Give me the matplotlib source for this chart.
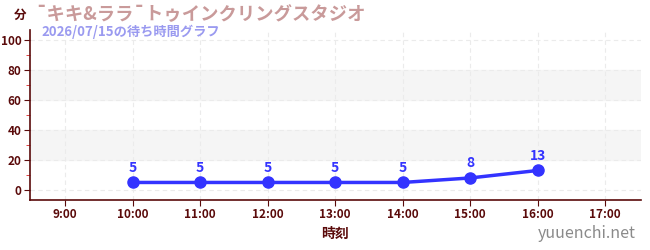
import matplotlib
matplotlib.use("Agg")
import matplotlib.pyplot as plt

plt.rcParams['font.family'] = ['Noto Sans CJK JP', 'DejaVu Sans']

# データ
hours = [10, 11, 12, 13, 14, 15, 16]
waits = [5, 5, 5, 5, 5, 8, 13]
xticks = [9, 10, 11, 12, 13, 14, 15, 16, 17]
xlabels = ["9:00", "10:00", "11:00", "12:00", "13:00", "14:00", "15:00", "16:00", "17:00"]
yticks = [0, 20, 40, 60, 80, 100]

axis_col = "#5a0a0a"
line_col = "#3333ff"

fig = plt.figure(figsize=(6.5, 2.5), dpi=100)
ax = fig.add_axes([30/650, 50/250, 611/650, 170/250])

ax.set_xlim(8.48, 17.53)
ax.set_ylim(-6.7, 106.7)

# 背景の帯
ax.axhspan(20, 40, color="#f5f5f5", zorder=0)
ax.axhspan(60, 80, color="#f5f5f5", zorder=0)

ax.grid(True, color="#ebebeb", linestyle=(0, (4, 3)), linewidth=0.8, zorder=1)

ax.plot(hours, waits, color=line_col, linewidth=2.5, marker="o", markersize=8, zorder=3)
for h, w in zip(hours, waits):
    ax.text(h, w + 5, str(w), color=line_col, fontsize=10, fontweight="bold",
            ha="center", va="bottom", zorder=4)

ax.set_xticks(xticks)
ax.set_xticklabels(xlabels)
ax.set_yticks(yticks)
ax.set_yticks([10, 30, 50, 70, 90], minor=True)
ax.tick_params(axis="both", colors=axis_col, labelsize=8.5, length=4, pad=2)
ax.tick_params(axis="y", which="minor", colors="#dd2222", length=3)
for lab in ax.get_xticklabels() + ax.get_yticklabels():
    lab.set_fontweight("bold")

for s in ["top", "right"]:
    ax.spines[s].set_visible(False)
for s in ["left", "bottom"]:
    ax.spines[s].set_color(axis_col)
    ax.spines[s].set_linewidth(1.2)

ax.set_xlabel("時刻", color=axis_col, fontsize=10, fontweight="bold", labelpad=4)

fig.text(20/650, 1 - 15/250, "分", color=axis_col, fontsize=9, fontweight="bold",
         ha="center", va="center")
fig.text(35/650, 1 - 15/250, "¯キキ&ララ¯トゥインクリングスタジオ", color="#c99a9a",
         fontsize=13.2, fontweight="bold", ha="left", va="center")
fig.text(41/650, 1 - 32/250, "2026/07/15の待ち時間グラフ", color="#9a9af0",
         fontsize=9.5, fontweight="bold", ha="left", va="center")
fig.text(636/650, 1 - 233/250, "yuuenchi.net", color="#8a8a8a", fontsize=11.5,
         ha="right", va="center")

fig.savefig("out.png", dpi=100)
